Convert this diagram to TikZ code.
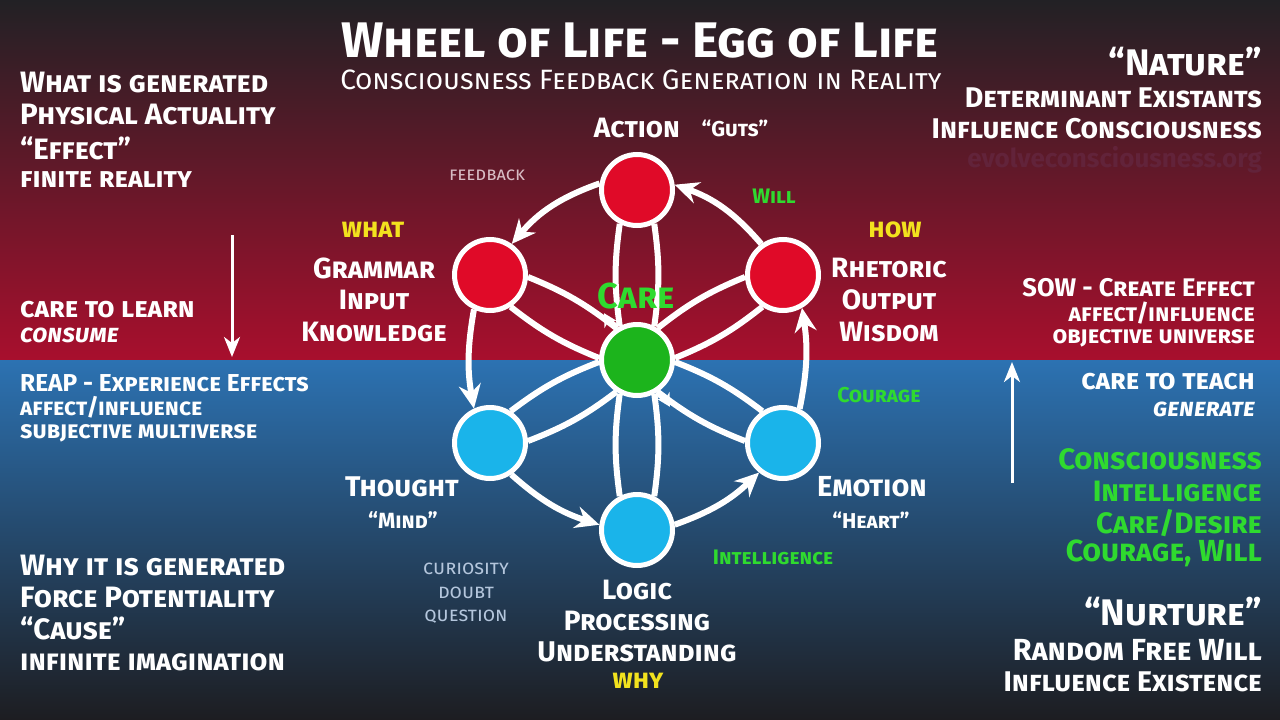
\documentclass[tikz,border=0pt]{standalone}
\usepackage{fontspec}
\setmainfont{Fira Sans}
\usetikzlibrary{arrows.meta}
\newcommand\fsz[1]{\fontsize{#1}{#1}\selectfont}
\definecolor{bgA}{HTML}{222125}
\definecolor{bgB}{HTML}{6B1530}
\definecolor{bgC}{HTML}{A80F2D}
\definecolor{blA}{HTML}{2C72B2}
\definecolor{blB}{HTML}{214A78}
\definecolor{blC}{HTML}{1D1D21}
\definecolor{cred}{HTML}{E00A28}
\definecolor{cgreen}{HTML}{1CB41C}
\definecolor{cblue}{HTML}{1AB4EA}
\definecolor{tgreen}{HTML}{2FDA2F}
\definecolor{tyellow}{HTML}{F2E21E}
\definecolor{tfb}{HTML}{D8BCC4}
\definecolor{tcq}{HTML}{B4C6DC}
\definecolor{twm}{HTML}{62233A}
\tikzset{
  wnode/.style={circle, draw=white, line width=5pt, minimum size=71pt, inner sep=0pt},
  rednode/.style={wnode, fill=cred},
  greennode/.style={wnode, fill=cgreen},
  bluenode/.style={wnode, fill=cblue},
  link/.style={draw=white, line width=6pt},
  flow/.style={link, -{Stealth[length=24pt,width=22pt,inset=8pt]}},
  spin/.style={draw=white, line width=5pt, -{Stealth[length=13pt,width=14pt,inset=4pt]}},
  vflow/.style={draw=white, line width=3pt, -{Stealth[length=20pt,width=16pt,inset=6pt]}},
  lbl/.style={text=white, inner sep=0pt},
  big/.style={lbl, font=\fsz{29.5}\bfseries\scshape},
  mid/.style={lbl, font=\fsz{28}\bfseries\scshape},
  sml/.style={lbl, font=\fsz{22.5}\bfseries\scshape},
  wl/.style={lbl, font=\fsz{28}\bfseries\scshape},
  wq/.style={lbl, font=\fsz{21.5}\bfseries\scshape},
  grn/.style={text=tgreen},
  ylw/.style={text=tyellow, font=\fsz{27}\bfseries\scshape},
  cq/.style={lbl, text=tcq, font=\fsz{20}\scshape},
}
\begin{document}
\begin{tikzpicture}[x=1pt,y=-1pt]
\useasboundingbox (0,0) rectangle (1280,720);
\shade[top color=bgA, middle color=bgB, bottom color=bgC] (0,0) rectangle (1280,360);
\shade[top color=blA, middle color=blB, bottom color=blC] (0,360) rectangle (1280,720);

% wheel nodes
\node[rednode] (action) at (637,190) {};
\node[rednode] (grammar) at (490,275) {};
\node[rednode] (rhetoric) at (783,275) {};
\node[greennode] (care) at (637,360) {};
\node[bluenode] (thought) at (490,443) {};
\node[bluenode] (emotion) at (783,443) {};
\node[bluenode] (logic) at (637,530) {};

% petals
\foreach \o/\a in {action/90,grammar/150,thought/210,logic/270,emotion/330,rhetoric/30}{
  \draw[link] (care.{\a+27}) to[bend left=8] (\o.{\a+180-27});
  \draw[link] (care.{\a-27}) to[bend right=8] (\o.{\a+180+27});
}
% spin arrows on care
\draw[spin] (care.120) arc[start angle=120, end angle=150, radius=38];
\draw[spin] (care.300) arc[start angle=300, end angle=330, radius=38];

% outer ring
\draw[flow] (action.170) to[bend right=15] (grammar.55);
\draw[flow] (grammar.245) to[bend right=10] (thought.115);
\draw[flow] (thought.304) to[bend right=12] (logic.172);
\draw[flow] (logic.8) to[bend right=12] (emotion.231);
\draw[flow] (emotion.64) to[bend right=10] (rhetoric.300);
\draw[flow] (rhetoric.125) to[bend right=15] (action.8);

% vertical arrows
\coordinate (la1) at (232,235); \coordinate (la2) at (232,357);
\draw[vflow] (la1) -- (la2);
\coordinate (ra1) at (1012,483); \coordinate (ra2) at (1012,362);
\draw[vflow] (ra1) -- (ra2);

% title
\node[lbl, anchor=base, font=\fsz{50}\bfseries\scshape] (title) at (640,57) {Wheel of Life - Egg of Life};
\node[lbl, anchor=base, font=\fsz{28}\scshape] (subtitle) at (641,89) {Consciousness Feedback Generation in Reality};

% left top
\node[big, anchor=west] (lt1) at (20,82) {What is generated};
\node[big, anchor=west] (lt2) at (20,114) {Physical Actuality};
\node[big, anchor=west] (lt3) at (20,148) {“Effect”};
\node[mid, anchor=west] (lt4) at (20,180) {finite reality};
\node[mid, anchor=west] (lt5) at (20,310) {care to learn};
\node[mid, anchor=west, font=\fsz{25}\bfseries\itshape\scshape] (lt6) at (20,335) {consume};

% right top
\node[lbl, anchor=east, font=\fsz{37}\bfseries\scshape] (rt1) at (1262,62) {“Nature”};
\node[big, anchor=east, font=\fsz{28.5}\bfseries\scshape] (rt2) at (1262,98) {Determinant Existants};
\node[big, anchor=east, font=\fsz{28.5}\bfseries\scshape] (rt3) at (1262,129) {Influence Consciousness};
\node[lbl, anchor=east, text=twm, font=\fsz{26}\bfseries] (wm) at (1262,160) {evolveconsciousness.org};
\node[lbl, anchor=east, font=\fsz{25.5}\bfseries\scshape] (rt4) at (1255,288) {SOW - Create Effect};
\node[lbl, anchor=east, font=\fsz{24}\bfseries\scshape] (rt5) at (1255,313) {affect/influence};
\node[lbl, anchor=east, font=\fsz{24}\bfseries\scshape] (rt6) at (1255,338) {objective universe};

% left bottom
\node[lbl, anchor=west, font=\fsz{24.5}\bfseries\scshape] (lb1) at (20,383) {REAP - Experience Effects};
\node[lbl, anchor=west, font=\fsz{23.5}\bfseries\scshape] (lb2) at (20,407) {affect/influence};
\node[lbl, anchor=west, font=\fsz{24}\bfseries\scshape] (lb3) at (20,433) {subjective multiverse};
\node[big, anchor=west] (lb4) at (20,565) {Why it is generated};
\node[big, anchor=west] (lb5) at (20,597) {Force Potentiality};
\node[big, anchor=west] (lb6) at (20,628) {“Cause”};
\node[mid, anchor=west, font=\fsz{29}\bfseries\scshape] (lb7) at (20,662) {infinite imagination};

% right bottom
\node[mid, anchor=east] (rb1) at (1255,382) {care to teach};
\node[mid, anchor=east, font=\fsz{25}\bfseries\itshape\scshape] (rb2) at (1255,409) {generate};
\node[big, grn, anchor=east] (rb3) at (1262,459) {Consciousness};
\node[big, grn, anchor=east] (rb4) at (1262,491) {Intelligence};
\node[big, grn, anchor=east] (rb5) at (1262,523) {Care/Desire};
\node[big, grn, anchor=east, font=\fsz{30.5}\bfseries\scshape] (rb6) at (1262,553) {Courage, Will};
\node[lbl, anchor=east, font=\fsz{37}\bfseries\scshape] (rb7) at (1262,612) {“Nurture”};
\node[big, anchor=east, font=\fsz{30.5}\bfseries\scshape] (rb8) at (1262,650) {Random Free Will};
\node[big, anchor=east, font=\fsz{28.5}\bfseries\scshape] (rb9) at (1262,682) {Influence Existence};

% wheel labels
\node[wl] (lAction) at (637,128) {Action};
\node[wq] (lGuts) at (735,128) {“Guts”};
\node[lbl, text=tfb, font=\fsz{18.5}\scshape] (lFeedback) at (487,175) {feedback};
\node[lbl, grn, font=\fsz{21}\bfseries\scshape] (lWill) at (774,196) {Will};
\node[lbl, ylw] (lWhat) at (373,230) {what};
\node[wl, font=\fsz{29}\bfseries\scshape] (lGrammar) at (374,268) {Grammar};
\node[wl] (lInput) at (374,300) {Input};
\node[wl] (lKnow) at (374,332) {Knowledge};
\node[lbl, grn, font=\fsz{36}\bfseries\scshape] (lCare) at (636,296) {Care};
\node[lbl, ylw] (lHow) at (895,230) {how};
\node[wl] (lRhet) at (889,268) {Rhetoric};
\node[wl] (lOut) at (889,300) {Output};
\node[wl] (lWis) at (889,332) {Wisdom};
\node[lbl, grn, font=\fsz{21.5}\bfseries\scshape] (lCour) at (879,395) {Courage};
\node[wl, font=\fsz{28.5}\bfseries\scshape] (lThought) at (402,487) {Thought};
\node[wq, font=\fsz{22}\bfseries\scshape] (lMind) at (403,520) {“Mind”};
\node[cq] (lCur) at (466,569) {curiosity};
\node[cq] (lDoubt) at (466,593) {doubt};
\node[cq] (lQuest) at (466,617) {question};
\node[wl, font=\fsz{29}\bfseries\scshape] (lEmotion) at (872,487) {Emotion};
\node[wq] (lHeart) at (871,520) {“Heart”};
\node[lbl, grn, font=\fsz{21}\bfseries\scshape] (lIntel) at (773,557) {Intelligence};
\node[wl] (lLogic) at (637,590) {Logic};
\node[wl] (lProc) at (637,621) {Processing};
\node[wl, font=\fsz{28.5}\bfseries\scshape] (lUnder) at (637,652) {Understanding};
\node[lbl, ylw] (lWhy) at (638,681) {why};
\end{tikzpicture}
\end{document}
